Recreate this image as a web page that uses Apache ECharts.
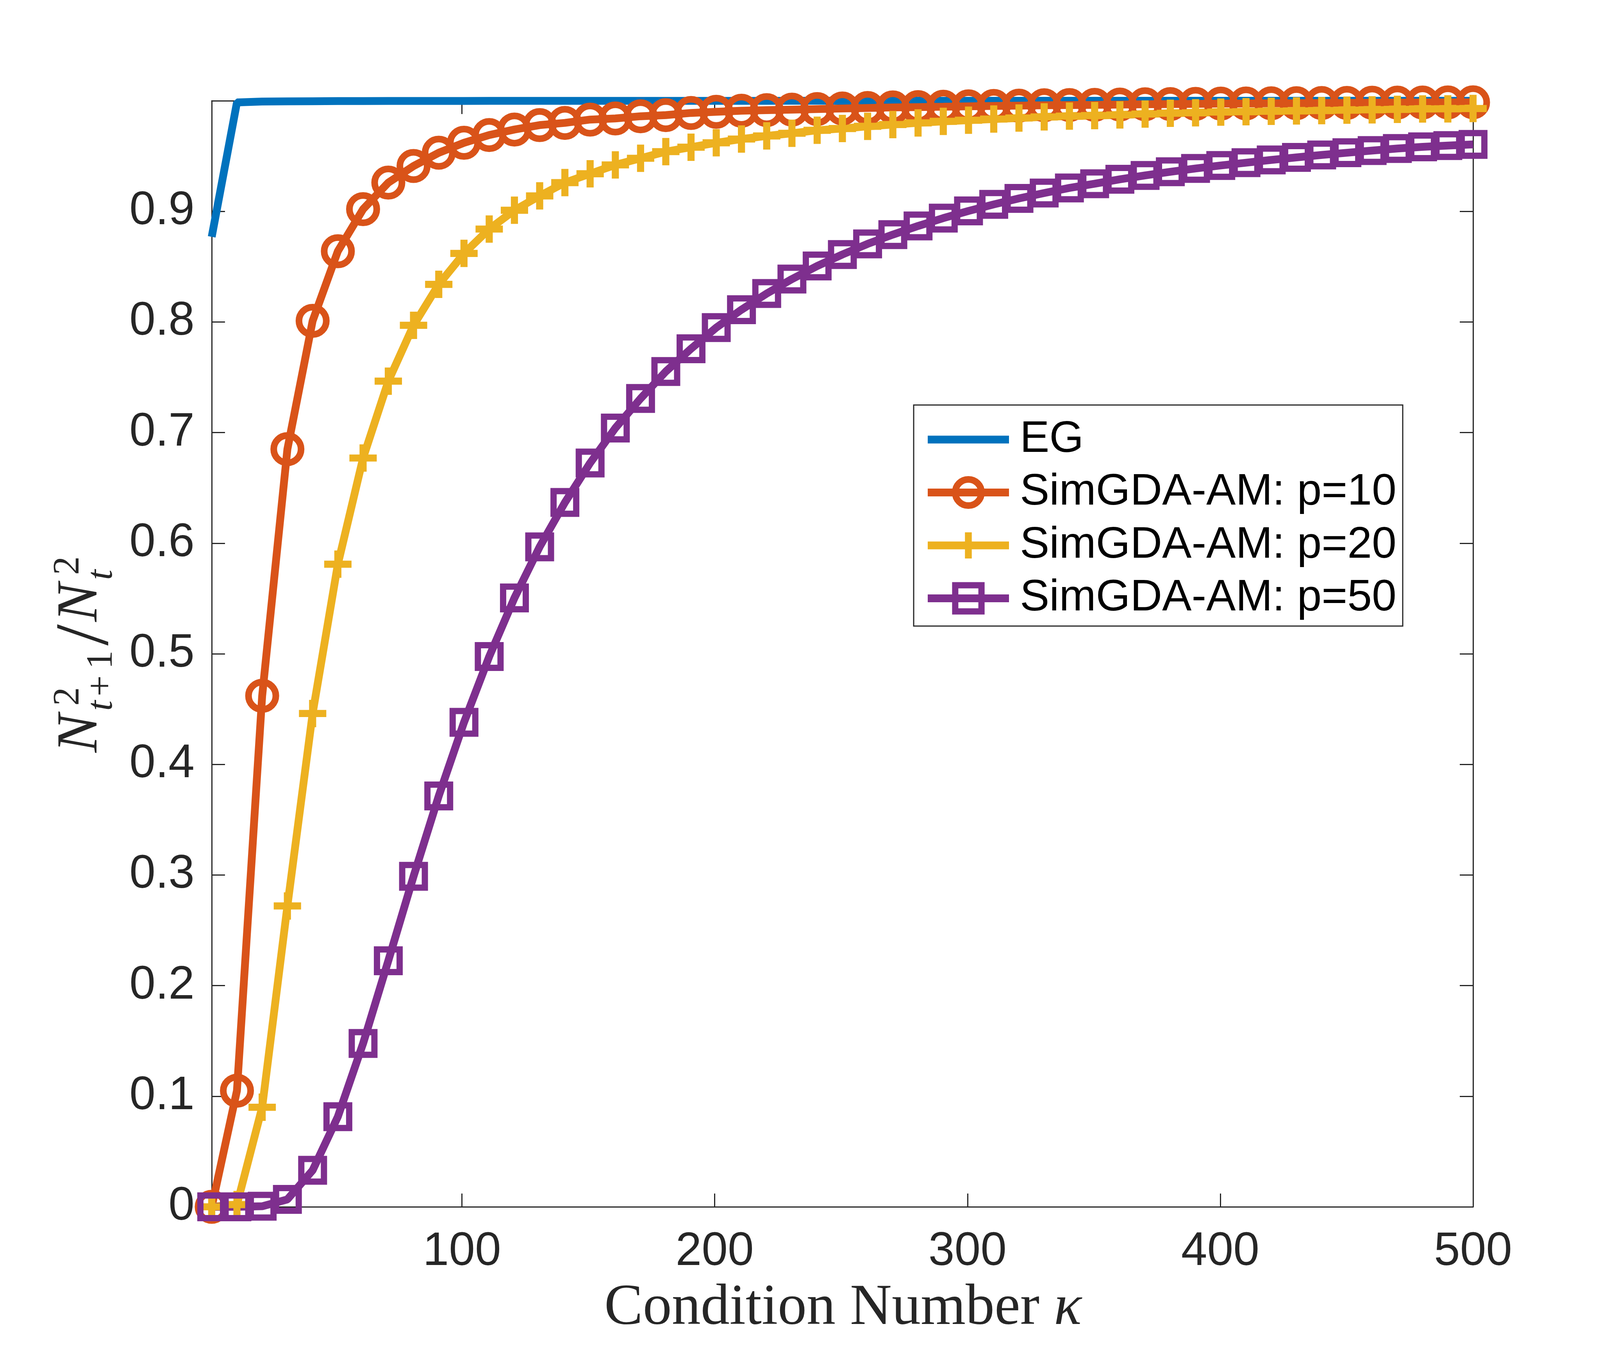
<!DOCTYPE html>
<html>
<head>
<meta charset="utf-8">
<title>SimGDA-AM ratio vs condition number</title>
<script src="https://cdn.jsdelivr.net/npm/echarts@6.0.0/dist/echarts.min.js"></script>
<style>
    html, body { margin: 0; padding: 0; background: #fff; }
    #draw-main { width: 4167px; height: 3472px; }
</style>
</head>
<body>
<div id="draw-main"></div>
<script>
// condition numbers (kappa) where the ratio was evaluated
let kappa = [1, 10.98, 20.96, 30.94, 40.92, 50.9, 60.88, 70.86, 80.84, 90.82,
    100.8, 110.78, 120.76, 130.74, 140.72, 150.7, 160.68, 170.66, 180.64, 190.62,
    200.6, 210.58, 220.56, 230.54, 240.52, 250.5, 260.48, 270.46, 280.44, 290.42,
    300.4, 310.38, 320.36, 330.34, 340.32, 350.3, 360.28, 370.26, 380.24, 390.22,
    400.2, 410.18, 420.16, 430.14, 440.12, 450.1, 460.08, 470.06, 480.04, 490.02, 500];

let eg = [0.877, 0.9985, 0.9993, 0.9995, 0.9996, 0.9997, 0.9997, 0.9998, 0.9998, 0.9998,
    0.9998, 0.9999, 0.9999, 0.9999, 0.9999, 0.9999, 0.9999, 0.9999, 0.9999, 0.9999,
    0.9999, 0.9999, 0.9999, 1, 1, 1, 1, 1, 1, 1,
    1, 1, 1, 1, 1, 1, 1, 1, 1, 1,
    1, 1, 1, 1, 1, 1, 1, 1, 1, 1, 1];

let simP10 = [0, 0.105, 0.462, 0.685, 0.801, 0.864, 0.902, 0.926, 0.941, 0.953,
    0.962, 0.969, 0.974, 0.978, 0.980, 0.983, 0.984, 0.986, 0.987, 0.989,
    0.990, 0.991, 0.9915, 0.992, 0.9925, 0.993, 0.9935, 0.994, 0.9943, 0.9946,
    0.995, 0.9953, 0.9956, 0.9959, 0.9961, 0.9963, 0.9966, 0.9968, 0.997, 0.9972,
    0.9974, 0.9975, 0.9977, 0.9978, 0.998, 0.9981, 0.9982, 0.9983, 0.9984, 0.9985, 0.9986];

let simP20 = [0, 0.002, 0.090, 0.272, 0.446, 0.581, 0.677, 0.7465, 0.797, 0.834,
    0.862, 0.884, 0.901, 0.914, 0.926, 0.934, 0.942, 0.948, 0.954, 0.958,
    0.962, 0.9654, 0.9682, 0.9706, 0.9733, 0.9749, 0.9769, 0.9785, 0.980, 0.9814,
    0.9824, 0.9835, 0.9844, 0.9854, 0.9861, 0.9866, 0.9872, 0.988, 0.9887, 0.9891,
    0.9898, 0.9901, 0.9905, 0.9908, 0.9911, 0.9915, 0.9918, 0.9922, 0.9926, 0.9927, 0.993];

let simP50 = [0, 0, 0.0005, 0.0067, 0.033, 0.0815, 0.1477, 0.2225, 0.2988, 0.3715,
    0.438, 0.4975, 0.5505, 0.5967, 0.6368, 0.6725, 0.7041, 0.7308, 0.7552, 0.7758,
    0.7949, 0.8111, 0.8257, 0.8388, 0.8506, 0.861, 0.8706, 0.879, 0.8868, 0.8939,
    0.9004, 0.9063, 0.9117, 0.9166, 0.9212, 0.925, 0.929, 0.9325, 0.9358, 0.9388,
    0.9415, 0.944, 0.9465, 0.9488, 0.951, 0.953, 0.955, 0.9568, 0.9583, 0.9595, 0.9605];

let seriesNames = ['EG', 'SimGDA-AM: p=10', 'SimGDA-AM: p=20', 'SimGDA-AM: p=50'];
let seriesColors = ['#0072BD', '#D95319', '#EDB120', '#7E2F8E'];
let xTicks = [100, 200, 300, 400, 500];

let axisColor = '#262626';
let sansFont = '"Liberation Sans", Arial, Helvetica, sans-serif';
let serifFont = '"Liberation Serif", "Times New Roman", serif';
let plusPath = 'path://M37,0H63V37H100V63H63V100H37V63H0V37H37Z';
let clear = 'rgba(0,0,0,0)';

let pairs = function (ys) {
    return kappa.map(function (k, i) { return [k, ys[i]]; });
};

let chartObj = {
    init: function () {
        this.draw();
    },
    axisLineStyle: function () {
        return { show: true, onZero: false, lineStyle: { color: axisColor, width: 3 } };
    },
    tickStyle: function (custom) {
        let t = { show: true, inside: true, length: 34, lineStyle: { color: axisColor, width: 3 } };
        if (custom) t.customValues = custom;
        return t;
    },
    lineSeries: function (idx, ys, symbol, size, filled) {
        let color = seriesColors[idx];
        return {
            name: seriesNames[idx],
            type: 'line',
            xAxisIndex: 0,
            yAxisIndex: 0,
            data: pairs(ys),
            clip: false,
            symbol: symbol,
            symbolSize: size,
            showSymbol: symbol !== 'none',
            lineStyle: { color: color, width: 20 },
            itemStyle: filled
                ? { color: color, borderWidth: 0 }
                : { color: clear, borderColor: color, borderWidth: idx === 1 ? 17 : 16 },
            emphasis: { disabled: true },
            z: 2
        };
    },
    legendItem: function (idx, fill, border) {
        return {
            name: seriesNames[idx],
            lineStyle: { color: seriesColors[idx], width: 20 },
            itemStyle: {
                color: fill,
                borderColor: border > 0 ? seriesColors[idx] : clear,
                borderWidth: border
            }
        };
    },
    yTitle: function () {
        // N^2_{t+1} / N^2_t, laid out along the text then turned upright
        let t = function (x, baseline, text, size, italic) {
            return {
                type: 'text', x: x, y: baseline - 0.34 * size,
                style: {
                    text: text,
                    font: (italic ? 'italic ' : '') + size + 'px ' + serifFont,
                    fill: axisColor,
                    textAlign: 'left',
                    textVerticalAlign: 'middle'
                }
            };
        };
        return {
            type: 'group',
            x: 258,
            y: 1927,
            rotation: Math.PI / 2,
            children: [
                t(0, 0, 'N', 148, true),
                t(120, -50, '2', 95, false),
                t(107, 35, 't', 95, true),
                t(144, 35, '+', 95, false),
                t(214, 35, '1', 95, false),
                t(274, 32, '/', 196, false),
                t(335, 0, 'N', 148, true),
                t(455, -50, '2', 95, false),
                t(442, 35, 't', 95, true)
            ]
        };
    },
    draw: function () {
        let myChart = echarts.init(document.getElementById('draw-main'), null, { renderer: 'canvas' });
        let self = this;

        let option = {
            animation: false,
            backgroundColor: '#ffffff',
            grid: { left: 542, right: 396, top: 258, bottom: 382, containLabel: false },
            xAxis: [{
                type: 'value',
                position: 'bottom',
                min: 1,
                max: 500,
                axisLine: self.axisLineStyle(),
                axisTick: self.tickStyle(xTicks),
                axisLabel: {
                    customValues: xTicks,
                    fontSize: 120,
                    fontFamily: sansFont,
                    color: axisColor,
                    margin: 56
                },
                splitLine: { show: false }
            }, {
                type: 'value',
                position: 'top',
                min: 1,
                max: 500,
                axisLine: self.axisLineStyle(),
                axisTick: self.tickStyle(xTicks),
                axisLabel: { show: false },
                splitLine: { show: false }
            }],
            yAxis: [{
                type: 'value',
                position: 'left',
                min: 0,
                max: 1,
                interval: 0.1,
                axisLine: self.axisLineStyle(),
                axisTick: self.tickStyle(),
                axisLabel: {
                    fontSize: 120,
                    fontFamily: sansFont,
                    color: axisColor,
                    margin: 44,
                    formatter: function (v) { return v >= 0.999 ? '' : String(+v.toFixed(1)); }
                },
                splitLine: { show: false }
            }, {
                type: 'value',
                position: 'right',
                min: 0,
                max: 1,
                interval: 0.1,
                axisLine: self.axisLineStyle(),
                axisTick: self.tickStyle(),
                axisLabel: { show: false },
                splitLine: { show: false }
            }],
            legend: {
                orient: 'vertical',
                left: 2365,
                top: 1069,
                padding: 0,
                itemWidth: 208,
                itemHeight: 84,
                itemGap: 22.5,
                selectedMode: false,
                z: 10,
                textStyle: {
                    fontSize: 113,
                    fontFamily: sansFont,
                    color: '#000000',
                    padding: [0, 0, 0, 23]
                },
                data: [
                    self.legendItem(0, clear, 0),
                    self.legendItem(1, clear, 17),
                    self.legendItem(2, seriesColors[2], 0),
                    self.legendItem(3, clear, 16)
                ]
            },
            graphic: [
                {
                    type: 'rect',
                    z: 5,
                    shape: { x: 2339, y: 1037, width: 1252, height: 566 },
                    style: { fill: '#ffffff', stroke: axisColor, lineWidth: 3 }
                },
                {
                    type: 'text',
                    x: 2158,
                    y: 3351,
                    style: {
                        text: '{a|Condition Number }{b|κ}',
                        rich: {
                            a: { font: '148px ' + serifFont, fill: axisColor },
                            b: { font: 'italic 148px ' + serifFont, fill: axisColor }
                        },
                        textAlign: 'center',
                        textVerticalAlign: 'middle'
                    }
                },
                self.yTitle()
            ],
            series: [
                self.lineSeries(0, eg, 'none', 0, true),
                self.lineSeries(1, simP10, 'circle', 70, false),
                self.lineSeries(2, simP20, plusPath, 70, true),
                self.lineSeries(3, simP50, 'rect', 58, false)
            ]
        };

        myChart.setOption(option, true);
    }
};

chartObj.init();
</script>
</body>
</html>
